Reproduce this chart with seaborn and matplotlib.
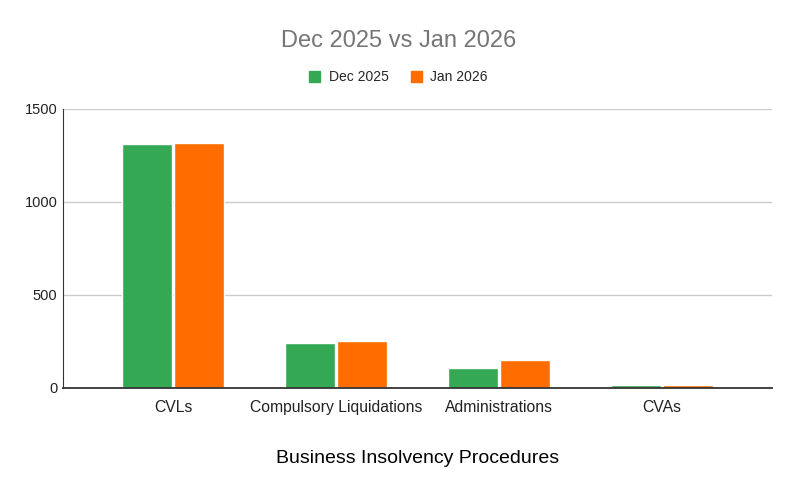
import matplotlib
matplotlib.use("Agg")
import matplotlib.pyplot as plt
import seaborn as sns
import pandas as pd
from matplotlib.patches import Patch

categories = ["CVLs", "Compulsory Liquidations", "Administrations", "CVAs"]
series_names = ["Dec 2025", "Jan 2026"]
dec_2025 = [1312, 242, 107, 15]
jan_2026 = [1318, 252, 150, 15]
colors = ["#34a853", "#ff6d01"]
y_ticks = [0, 500, 1000, 1500]

df = pd.DataFrame({
    "Procedure": categories * 2,
    "Series": [series_names[0]] * 4 + [series_names[1]] * 4,
    "Value": dec_2025 + jan_2026,
})

sns.set_theme(style="white")
plt.rcParams["font.family"] = ["Liberation Sans", "DejaVu Sans"]

fig = plt.figure(figsize=(7.97, 4.94), dpi=100)
ax = fig.add_axes([0.0790, 0.2146, 0.8896, 0.5648])

sns.barplot(data=df, x="Procedure", y="Value", hue="Series", palette=colors,
            width=0.64, gap=0.04, ax=ax, legend=False, saturation=1)

ax.set_ylim(0, 1500)
ax.set_yticks(y_ticks)
ax.set_yticklabels([str(t) for t in y_ticks], fontsize=10.5, color="#222222")
ax.set_xlim(-0.675, 3.675)
ax.tick_params(axis="x", labelsize=11.3, colors="#222222", length=0, pad=9)
ax.tick_params(axis="y", length=0, pad=4)
ax.yaxis.grid(True, color="#cccccc", linewidth=1)
ax.set_axisbelow(True)
for s in ["top", "right"]:
    ax.spines[s].set_visible(False)
ax.spines["left"].set_color("#333333")
ax.spines["left"].set_linewidth(0.8)
ax.spines["bottom"].set_color("#333333")
ax.spines["bottom"].set_linewidth(1.3)
ax.set_ylabel("")
ax.set_xlabel("Business Insolvency Procedures", fontsize=14, color="#000000", labelpad=25)

fig.text(0.5, 0.917, "Dec 2025 vs Jan 2026", ha="center", va="center",
         fontsize=17, color="#757575")
handles = [Patch(facecolor=c, edgecolor=c) for c in colors]
fig.legend(handles, series_names, loc="center", bbox_to_anchor=(0.5, 0.844), ncol=2,
           frameon=False, fontsize=10, handlelength=0.8, handleheight=0.8,
           handletextpad=0.6, columnspacing=1.6)

fig.savefig("out.png", dpi=100)
